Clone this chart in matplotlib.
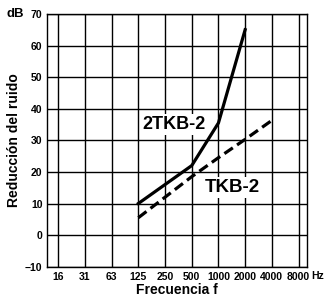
import numpy as np
import matplotlib.pyplot as plt

plt.rcParams['font.family'] = ['Liberation Sans', 'DejaVu Sans']
plt.rcParams['font.weight'] = 'bold'

# Data.
freq_labels = ['16', '31', '63', '125', '250', '500', '1000', '2000', '4000', '8000']
tkb2x_freqs = ['125', '500', '1000', '2000']
tkb2x_db = [10, 22, 35.5, 65]
tkb2_freqs = ['125', '250', '500', '1000', '2000', '4000']
tkb2_db = [5.5, 12, 18.5, 24.5, 30.3, 36.3]
y_ticks = [-10, 0, 10, 20, 30, 40, 50, 60, 70]

pos = {f: i for i, f in enumerate(freq_labels)}

fig = plt.figure(figsize=(3.24, 2.96), dpi=100)
ax = fig.add_axes([0.146, 0.099, 0.801, 0.854])

ax.plot([pos[f] for f in tkb2x_freqs], tkb2x_db, color='black', lw=2.3,
        solid_joinstyle='miter', zorder=3)
ax.plot([pos[f] for f in tkb2_freqs], tkb2_db, color='black', lw=2.3,
        linestyle=(0, (3.2, 1.6)), zorder=3)

ax.set_xlim(-0.41, 9.31)
ax.set_ylim(-10, 70)
ax.set_xticks(range(len(freq_labels)))
ax.set_xticklabels(freq_labels)
ax.set_yticks(y_ticks)
ax.tick_params(length=0, labelsize=7.5, pad=3.5)
ax.grid(True, color='black', lw=1.0)
for s in ax.spines.values():
    s.set_linewidth(1.0)

ax.text(1.0 + 4 / 259.4, -9 / 252.7, 'Hz', transform=ax.transAxes,
        fontsize=7.5, va='center', ha='left', fontweight='bold')
fig.text(15 / 324, 1 - 14 / 296, 'dB', fontsize=9.5, ha='center', va='center',
         fontweight='bold')

box = dict(facecolor='white', edgecolor='none', pad=1.5)
ax.text(4.34, 35, '2TKB-2', fontsize=13, fontweight='bold', ha='center',
        va='center', bbox=box, zorder=4)
ax.text(6.51, 15.2, 'TKB-2', fontsize=13.5, fontweight='bold', ha='center',
        va='center', bbox=box, zorder=4)

ax.set_xlabel('Frecuencia f', fontsize=10, fontweight='bold', labelpad=1)
ax.set_ylabel('Reducción del ruido', fontsize=10, fontweight='bold', labelpad=3)

fig.savefig('out.png', dpi=100)
